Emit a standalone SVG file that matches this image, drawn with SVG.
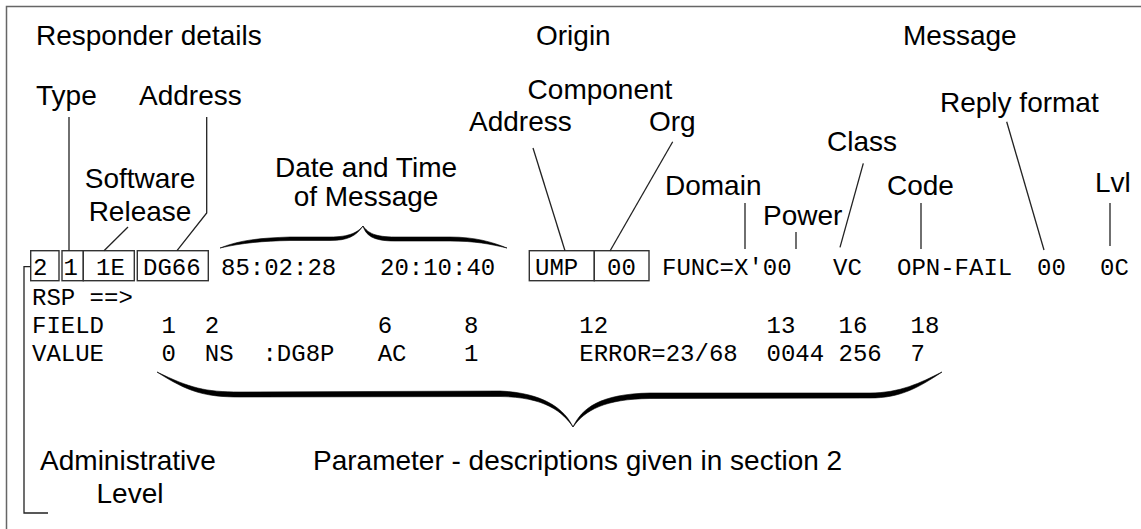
<svg xmlns="http://www.w3.org/2000/svg" width="1141" height="529" viewBox="0 0 1141 529">
<style>
.lbl{font-family:"Liberation Sans",Arial,sans-serif;font-size:28px;fill:#000}
.mono{font-family:"Liberation Mono","Courier New",monospace;font-size:24px;fill:#000}
.box{fill:none;stroke:#333;stroke-width:1.4}
.ln{fill:none;stroke:#222;stroke-width:1.3}
.brace{fill:#000;stroke:#000;stroke-width:0.6}
</style>
<rect x="6.5" y="6.5" width="1140" height="530" fill="#fff" stroke="#666" stroke-width="1.5"/>
<g id="section-labels">
<text class="lbl" x="36" y="45">Responder details</text>
<text class="lbl" x="536" y="45">Origin</text>
<text class="lbl" x="903" y="45">Message</text>
</g>
<g id="type"><text class="lbl" x="36" y="105">Type</text></g>
<g id="address"><text class="lbl" x="139" y="105">Address</text></g>
<g id="software-release"><text class="lbl" text-anchor="middle" x="140" y="188">Software</text><text class="lbl" text-anchor="middle" x="140" y="221">Release</text></g>
<g id="date-time"><text class="lbl" text-anchor="middle" x="366" y="177">Date and Time</text><text class="lbl" text-anchor="middle" x="366" y="206">of Message</text></g>
<g id="component"><text class="lbl" text-anchor="middle" x="600" y="99">Component</text><text class="lbl" x="469" y="131">Address</text><text class="lbl" x="649" y="131">Org</text></g>
<g id="domain"><text class="lbl" x="665" y="195">Domain</text></g>
<g id="power"><text class="lbl" x="763" y="225">Power</text></g>
<g id="class"><text class="lbl" x="827" y="151">Class</text></g>
<g id="code"><text class="lbl" x="887" y="195">Code</text></g>
<g id="reply-format"><text class="lbl" x="940" y="112">Reply format</text></g>
<g id="lvl"><text class="lbl" x="1095" y="192">Lvl</text></g>
<g id="admin-level"><text class="lbl" text-anchor="middle" x="128" y="470">Administrative</text><text class="lbl" text-anchor="middle" x="130" y="503">Level</text></g>
<g id="parameter"><text class="lbl" x="313" y="470">Parameter - descriptions given in section 2</text></g>
<g id="message-row">
<rect class="box" x="30.7" y="250.7" width="28.3" height="30"/>
<rect class="box" x="62" y="250.7" width="21.3" height="30"/>
<rect class="box" x="83.3" y="250.7" width="51" height="30"/>
<rect class="box" x="137.3" y="250.7" width="71" height="30"/>
<rect class="box" x="529.3" y="250.7" width="65" height="30"/>
<rect class="box" x="594.3" y="250.7" width="54.7" height="30"/>
<text class="mono" x="33" y="275">2</text>
<text class="mono" x="63.5" y="275">1</text>
<text class="mono" x="96" y="275">1E</text>
<text class="mono" x="143" y="275">DG66</text>
<text class="mono" x="221" y="275">85:02:28</text>
<text class="mono" x="380" y="275">20:10:40</text>
<text class="mono" x="535" y="275">UMP</text>
<text class="mono" x="607" y="275">00</text>
<text class="mono" x="662" y="275">FUNC=X'00</text>
<text class="mono" x="833" y="275">VC</text>
<text class="mono" x="897" y="275">OPN-FAIL</text>
<text class="mono" x="1037" y="275">00</text>
<text class="mono" x="1100" y="275">0C</text>
</g>
<g id="rsp-block">
<text class="mono" x="32" y="305" xml:space="preserve">RSP ==&gt;</text>
<text class="mono" x="32" y="333" xml:space="preserve">FIELD    1  2           6     8       12           13   16   18</text>
<text class="mono" x="32" y="361" xml:space="preserve">VALUE    0  NS  :DG8P   AC    1       ERROR=23/68  0044 256  7</text>
</g>
<g id="connectors">
<path class="ln" d="M69,117 V250.7"/>
<path class="ln" d="M206.7,117 V213 L177,250.7"/>
<path class="ln" d="M128,227 L104,250.7"/>
<path class="ln" d="M533,148 L565,250.7"/>
<path class="ln" d="M672.7,141.7 L610,251"/>
<path class="ln" d="M745,203 V249"/>
<path class="ln" d="M796,232 V249"/>
<path class="ln" d="M863.3,163.3 L840,247.3"/>
<path class="ln" d="M921,203 V249"/>
<path class="ln" d="M1006.7,121.7 L1044,250"/>
<path class="ln" d="M1110,203 V246"/>
<path class="ln" d="M48,513 H24 V266.7 H30.7"/>
<path class="brace" d="M220,248 C240,240 260,238 290,237 L330,237 C350,237 358,232 363,226 C356,236 348,240.5 330,240.5 L290,240.5 C262,241 242,243 220,248 Z"/>
<path class="brace" d="M363,226 C368,233 375,237 395,237 L450,237 C475,237 492,242 507,248 C490,244 475,241 450,241 L395,241 C372,241 366,235 363,226 Z"/>
<path class="brace" d="M157,372 C190,388 205,392 240,392 L500,391 C545,393 565,410 573,427 C563,412 545,397 500,396.5 L240,397 C205,397 188,392 157,372 Z"/>
<path class="brace" d="M573,427 C582,408 600,394 650,393 L870,393 C900,393 920,383 942,372 C918,388 900,398 870,398 L650,398.5 C605,399 585,410 573,427 Z"/>
</g>
</svg>
